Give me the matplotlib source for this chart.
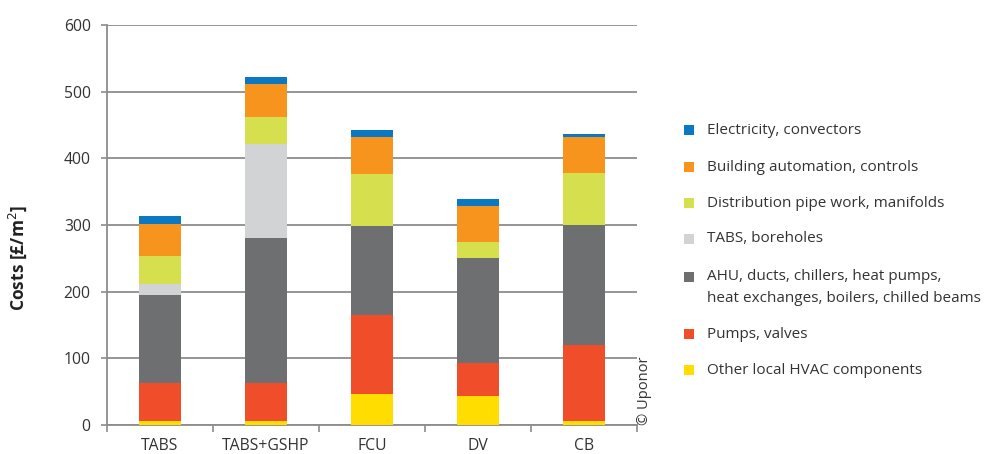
import matplotlib
matplotlib.use("Agg")
import matplotlib.pyplot as plt
from matplotlib.patches import Rectangle
import numpy as np

plt.rcParams['font.family'] = ['Open Sans', 'DejaVu Sans']

categories = ["TABS", "TABS+GSHP", "FCU", "DV", "CB"]

other_local = [6, 6, 46, 43, 6]
pumps_valves = [57, 57, 119, 50, 114]
ahu = [132, 218, 134, 158, 180]
tabs_boreholes = [17, 140, 0, 0, 0]
distribution = [41, 41, 78, 23, 78]
automation = [49, 49, 55, 54, 54]
electricity = [11, 11, 10, 11, 5]

series_labels = [
    "Other local HVAC components",
    "Pumps, valves",
    "AHU, ducts, chillers, heat pumps,\nheat exchanges, boilers, chilled beams",
    "TABS, boreholes",
    "Distribution pipe work, manifolds",
    "Building automation, controls",
    "Electricity, convectors",
]
series_values = [other_local, pumps_valves, ahu, tabs_boreholes,
                 distribution, automation, electricity]
colors = ["#ffdd00", "#f04d2b", "#6e6f71", "#d2d3d5", "#d6e04e", "#f7941e", "#0a78c2"]

y_ticks = [0, 100, 200, 300, 400, 500, 600]

W, H = 987, 454
fig = plt.figure(figsize=(W / 100, H / 100), dpi=100)
ax = fig.add_axes([106.7 / W, 1 - 425 / H, (637.3 - 106.7) / W, (425 - 25) / H])

x = np.arange(len(categories))
bottom = np.zeros(len(categories))
for vals, col in zip(series_values, colors):
    v = np.array(vals, dtype=float)
    ax.bar(x, v, bottom=bottom, width=0.4, color=col, linewidth=0, zorder=3)
    bottom += v

ax.set_xlim(-0.5, len(categories) - 0.5)
ax.set_ylim(0, 600)
ax.set_yticks(y_ticks)
ax.set_yticklabels([str(t) for t in y_ticks], fontsize=11.3, color="#333333")
ax.set_xticks(x)
ax.set_xticklabels(categories, fontsize=11.3, color="#333333")
ax.set_xticks(np.arange(len(categories) + 1) - 0.5, minor=True)
ax.tick_params(axis='x', which='major', length=0, pad=9.5)
ax.tick_params(axis='x', which='minor', length=5, width=1.2, color="#8c8c8c")
ax.tick_params(axis='y', which='major', length=4.5, width=1.2, color="#8c8c8c", pad=7)

ax.grid(axis='y', color="#8c8c8c", linewidth=1.3, zorder=0)
ax.set_axisbelow(True)
for s in ["top", "right"]:
    ax.spines[s].set_visible(False)
for s in ["left", "bottom"]:
    ax.spines[s].set_color("#8c8c8c")
    ax.spines[s].set_linewidth(1.3)

fig.text(18 / W, 1 - 258 / H, "Costs [£/m$^2$]", rotation=90, fontsize=12.5,
         fontweight='bold', ha='center', va='center', color="#222222")

fig.text(644 / W, 1 - 391 / H, "© Uponor", rotation=90, fontsize=10.5,
         ha='center', va='center', color="#333333")

# Legend (manual layout, top to bottom)
legend_y = [130, 167, 203, 239, 277, 334, 370]
order = list(range(len(series_labels)))[::-1]
for yy, idx in zip(legend_y, order):
    fig.add_artist(Rectangle((684 / W, 1 - (yy + 5) / H), 10 / W, 10 / H,
                             transform=fig.transFigure, color=colors[idx], linewidth=0))
    lines = series_labels[idx].split("\n")
    for k, line in enumerate(lines):
        fig.text(707 / W, 1 - (yy + k * 21.5) / H, line, fontsize=11.0,
                 ha='left', va='center', color="#333333")

fig.savefig("out.png", dpi=100)
